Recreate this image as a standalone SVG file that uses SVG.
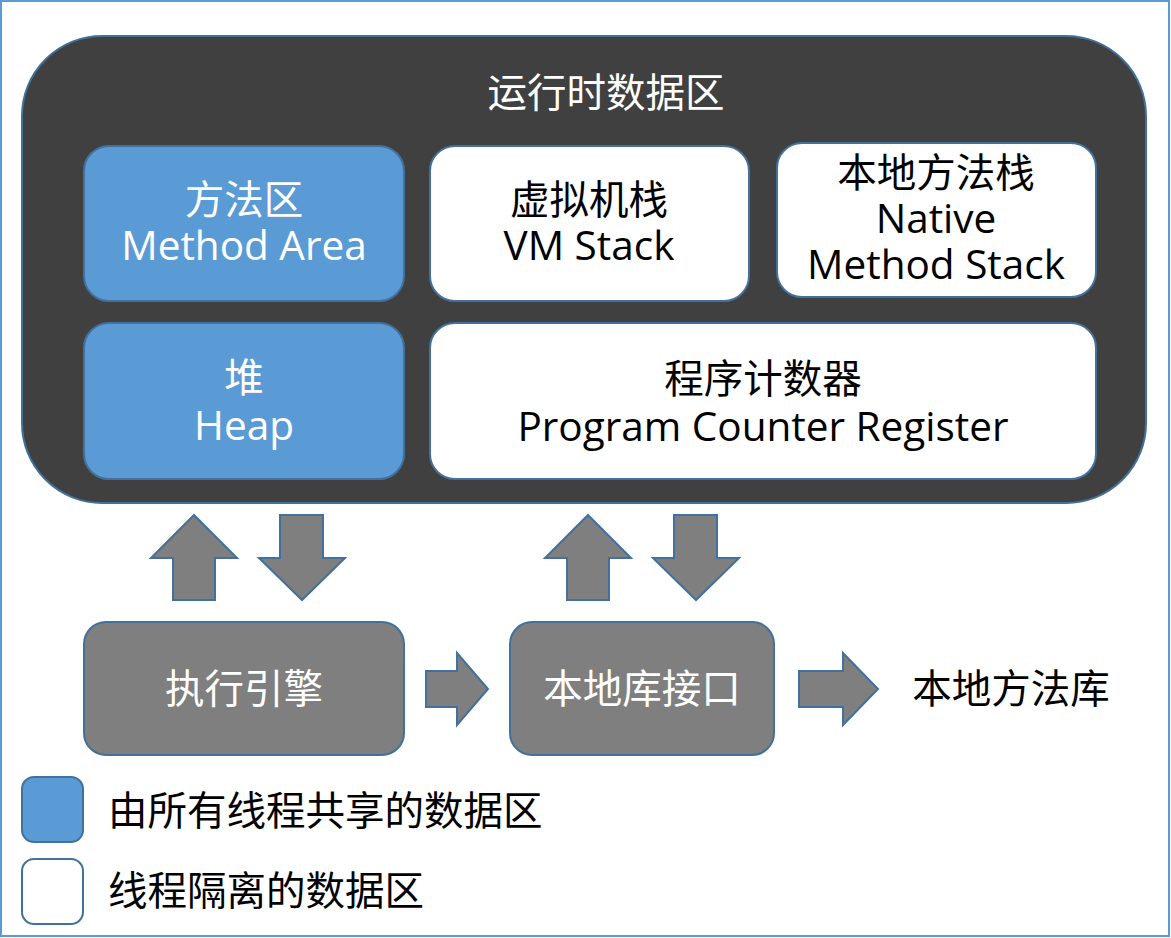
<svg xmlns="http://www.w3.org/2000/svg" width="1171" height="938" viewBox="0 0 1171 938">
<style>
.t{font-family:"Open Sans","Noto Sans CJK SC",sans-serif;font-size:39.5px;text-anchor:middle}
.l{font-size:40.5px}
.w{fill:#ffffff}
.k{fill:#000000}
.box{stroke:#41719c;stroke-width:2}
.blue{fill:#5b9bd5}
.white{fill:#ffffff}
.gray{fill:#7f7f7f}
.arr{fill:#7f7f7f;stroke:#41719c;stroke-width:2;stroke-linejoin:miter}
</style>
<rect x="1" y="1" width="1168" height="935" fill="#ffffff" stroke="#5b9bd5" stroke-width="2"/>
<g id="runtime-data-area">
<rect x="22" y="36" width="1124" height="467" rx="80" ry="80" fill="#404040" class="box"/>
<text class="t w" x="606" y="107">运行时数据区</text>
</g>
<g id="method-area">
<rect class="box blue" x="84" y="146" width="320" height="155" rx="25"/>
<text class="t w" x="244" y="214">方法区</text>
<text class="t l w" x="244" y="260">Method Area</text>
</g>
<g id="vm-stack">
<rect class="box white" x="430" y="146" width="319" height="155" rx="25"/>
<text class="t k" x="589" y="214">虚拟机栈</text>
<text class="t l k" x="589" y="260">VM Stack</text>
</g>
<g id="native-method-stack">
<rect class="box white" x="777" y="143" width="319" height="154" rx="25"/>
<text class="t k" x="936" y="187">本地方法栈</text>
<text class="t l k" x="936" y="233">Native</text>
<text class="t l k" x="936" y="279">Method Stack</text>
</g>
<g id="heap">
<rect class="box blue" x="84" y="323" width="320" height="156" rx="25"/>
<text class="t w" x="244" y="392">堆</text>
<text class="t l w" x="244" y="440">Heap</text>
</g>
<g id="program-counter">
<rect class="box white" x="430" y="323" width="666" height="156" rx="25"/>
<text class="t k" x="763" y="393">程序计数器</text>
<text class="t l k" x="763" y="441">Program Counter Register</text>
</g>
<g id="execution-engine">
<rect class="box gray" x="84" y="622" width="320" height="133" rx="22"/>
<text class="t w" x="244" y="703">执行引擎</text>
</g>
<g id="native-interface">
<rect class="box gray" x="510" y="622" width="264" height="133" rx="22"/>
<text class="t w" x="642" y="703">本地库接口</text>
</g>
<g id="native-library">
<text class="t k" x="1011" y="703">本地方法库</text>
</g>
<g id="connectors">
<polygon class="arr" points="194,515 237,558 215,558 215,600 173,600 173,558 151,558"/>
<polygon class="arr" points="280,515 323,515 323,558 345,558 302,600 259,558 280,558"/>
<polygon class="arr" points="588,515 631,558 609,558 609,600 567,600 567,558 545,558"/>
<polygon class="arr" points="674,515 717,515 717,558 739,558 696,600 653,558 674,558"/>
<polygon class="arr" points="426,671 457,671 457,653 488,689 457,725 457,707 426,707"/>
<polygon class="arr" points="799,671 843,671 843,653 878,689 843,725 843,707 799,707"/>
</g>
<g id="legend">
<rect class="box blue" x="22" y="777" width="61" height="65" rx="12"/>
<text class="t k" x="108" y="825" style="text-anchor:start">由所有线程共享的数据区</text>
<rect class="box white" x="22" y="859" width="61" height="65" rx="12"/>
<text class="t k" x="108" y="905" style="text-anchor:start">线程隔离的数据区</text>
</g>
</svg>
